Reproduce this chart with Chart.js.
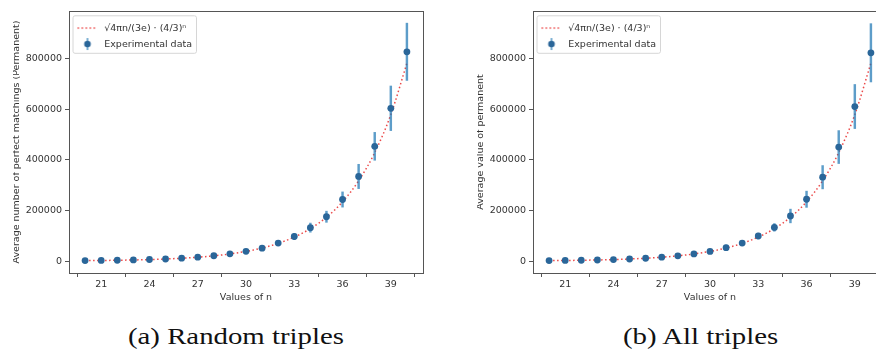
<!DOCTYPE html>
<html>
<head>
<meta charset="utf-8">
<script src="https://cdn.jsdelivr.net/npm/chart.js@4.4.1/dist/chart.umd.min.js"></script>
<style>
  html, body { margin:0; padding:0; background:#fff; width:876px; height:354px; overflow:hidden; position:relative; }
  .plot { position:absolute; top:0; width:440px; height:320px; }
  .cap { position:absolute; top:324px; font-family:'Liberation Serif', serif; font-size:24px; line-height:24px;
         color:#111; white-space:nowrap; transform-origin:left top; transform:scaleX(1.2); }
</style>
</head>
<body>
<div class="plot" style="left:0"><canvas id="chartA" width="440" height="320"></canvas></div>
<div class="plot" style="left:464px"><canvas id="chartB" width="440" height="320"></canvas></div>
<div class="cap" style="left:128px">(a) Random triples</div>
<div class="cap" style="left:623px">(b) All triples</div>
<script>
// values of n on the x axis
const nValues = [20,21,22,23,24,25,26,27,28,29,30,31,32,33,34,35,36,37,38,39,40];
// red dotted reference curve
const theoryValues = [1750,2400,3260,4450,6060,8250,11200,15200,20700,28100,38100,
  51600,69900,94700,128000,173000,234000,317000,428000,578000,781000];
// (a) random triples
const randomMeans = [2000,2500,3300,4500,6200,8300,11500,15500,21000,28500,38500,
  51000,71000,97000,132000,175000,243000,334000,453000,603000,826000];
const randomErrors = [500,700,900,1200,1600,2200,3000,4000,5000,6500,8000,
  10000,10000,12000,18000,22000,30000,48000,55000,88000,113000];
// (b) all triples
const allMeans = [1900,2500,3300,4400,6100,8200,11300,15300,20800,28300,38000,
  53000,71000,99000,133000,178000,244000,331000,450000,610000,822000];
const allErrors = [500,700,900,1200,1600,2200,3000,4000,5000,6500,8000,
  10000,10000,11000,15000,27000,32000,46000,65000,87000,115000];

const xTicks = [21,24,27,30,33,36,39];
const yTicks = [0,200000,400000,600000,800000];
const lineLabel = '√4πn/(3e) · (4/3)ⁿ';
const markerLabel = 'Experimental data';

const markerColor = '#2a6699';
const errColor = 'rgba(31,119,180,0.72)';
const lineColor = 'rgba(232,40,40,0.85)';

Chart.defaults.font.family = "'DejaVu Sans', sans-serif";
Chart.defaults.font.size = 9.5;
Chart.defaults.color = '#333';

// little legend icons
function lineIcon(){
  const c = document.createElement('canvas'); c.width = 22; c.height = 6;
  const g = c.getContext('2d');
  g.strokeStyle = lineColor; g.lineWidth = 1.5; g.setLineDash([1.5,2.5]);
  g.beginPath(); g.moveTo(1,3); g.lineTo(21,3); g.stroke();
  return c;
}
function markerIcon(){
  const c = document.createElement('canvas'); c.width = 10; c.height = 14;
  const g = c.getContext('2d');
  g.fillStyle = errColor; g.fillRect(4.2, 1, 1.6, 12);
  g.fillStyle = markerColor; g.beginPath(); g.arc(5, 7, 3.3, 0, Math.PI*2); g.fill();
  return c;
}

const framePlugin = {
  id: 'frame',
  beforeDraw(chart){
    const boxes = chart.legend && chart.legend.legendHitBoxes;
    if (!boxes || !boxes.length) return;
    const ctx = chart.ctx;
    const x0 = Math.min(...boxes.map(b => b.left)) - 3;
    const x1 = Math.max(...boxes.map(b => b.left + b.width)) + 4;
    const y0 = boxes[0].top - 8;
    const last = boxes[boxes.length - 1];
    const y1 = last.top + last.height + 4;
    ctx.save();
    ctx.fillStyle = '#fff'; ctx.strokeStyle = '#d6d6d6'; ctx.lineWidth = 1;
    ctx.beginPath(); ctx.roundRect(x0 + 0.5, y0 + 0.5, x1 - x0, y1 - y0, 2); ctx.fill(); ctx.stroke();
    ctx.restore();
  },
  afterDraw(chart){
    const {ctx, chartArea: a} = chart;
    ctx.save();
    ctx.strokeStyle = '#555'; ctx.lineWidth = 1;
    ctx.strokeRect(a.left + 0.5, a.top + 0.5, a.right - a.left, a.bottom - a.top);
    // the ylabel is cut on its left side in the original
    ctx.fillStyle = '#fff'; ctx.fillRect(0, 0, 13, chart.height);
    ctx.restore();
  }
};

function makeChart(id, yTitle, means, errors){
  const ctx = document.getElementById(id).getContext('2d');
  return new Chart(ctx, {
    type: 'scatter',
    data: {
      datasets: [
        {
          type: 'scatter',
          label: markerLabel,
          data: nValues.map((n, i) => ({x: n, y: means[i]})),
          backgroundColor: markerColor,
          borderWidth: 0,
          pointRadius: 3.4,
          order: 0
        },
        {
          type: 'bar',
          label: 'error',
          data: nValues.map((n, i) => ({x: n, y: [means[i] - errors[i], means[i] + errors[i]]})),
          backgroundColor: errColor,
          borderWidth: 0,
          barThickness: 1.8,
          order: 1
        },
        {
          type: 'line',
          label: lineLabel,
          data: nValues.map((n, i) => ({x: n, y: theoryValues[i]})),
          borderColor: lineColor,
          borderWidth: 1.5,
          borderDash: [1.5, 2.5],
          pointRadius: 0,
          fill: false,
          cubicInterpolationMode: 'monotone',
          order: 2
        }
      ]
    },
    options: {
      responsive: false,
      animation: false,
      events: [],
      layout: { padding: { left: 0, top: 11, right: 17, bottom: 0 } },
      scales: {
        x: {
          type: 'linear', min: 19, max: 41, offset: false,
          afterBuildTicks: s => { s.ticks = xTicks.map(v => ({value: v})); },
          afterFit: s => { s.height = 47; },
          grid: { drawOnChartArea: false, drawTicks: true, tickLength: 4, color: '#555' },
          border: { display: false },
          ticks: { padding: 2, color: '#333' },
          title: { display: true, text: 'Values of n', color: '#333', padding: { top: 0, bottom: 17 } }
        },
        y: {
          type: 'linear', min: -47000, max: 987000,
          afterBuildTicks: s => { s.ticks = yTicks.map(v => ({value: v})); },
          afterFit: s => { s.width = 69; },
          grid: { drawOnChartArea: false, drawTicks: true, tickLength: 4, color: '#555' },
          border: { display: false },
          ticks: { padding: 3, color: '#333', callback: v => String(v) },
          title: { display: true, text: yTitle, color: '#333', padding: { top: 10.5, bottom: 0 } }
        }
      },
      plugins: {
        tooltip: { enabled: false },
        legend: {
          position: 'chartArea',
          align: 'start',
          title: { display: true, text: ' ', font: { size: 14 }, padding: 0 },
          labels: {
            usePointStyle: true,
            pointStyleWidth: 24,
            padding: 6.5,
            color: '#222',
            generateLabels: () => [
              { text: lineLabel, pointStyle: lineIcon(), fillStyle: 'rgba(0,0,0,0)', strokeStyle: 'rgba(0,0,0,0)', lineWidth: 0, hidden: false, datasetIndex: 2 },
              { text: markerLabel, pointStyle: markerIcon(), fillStyle: 'rgba(0,0,0,0)', strokeStyle: 'rgba(0,0,0,0)', lineWidth: 0, hidden: false, datasetIndex: 0 }
            ]
          }
        }
      }
    },
    plugins: [framePlugin]
  });
}

makeChart('chartA', 'Average number of perfect matchings (Permanent)', randomMeans, randomErrors);
makeChart('chartB', 'Average value of permanent', allMeans, allErrors);
</script>
</body>
</html>
